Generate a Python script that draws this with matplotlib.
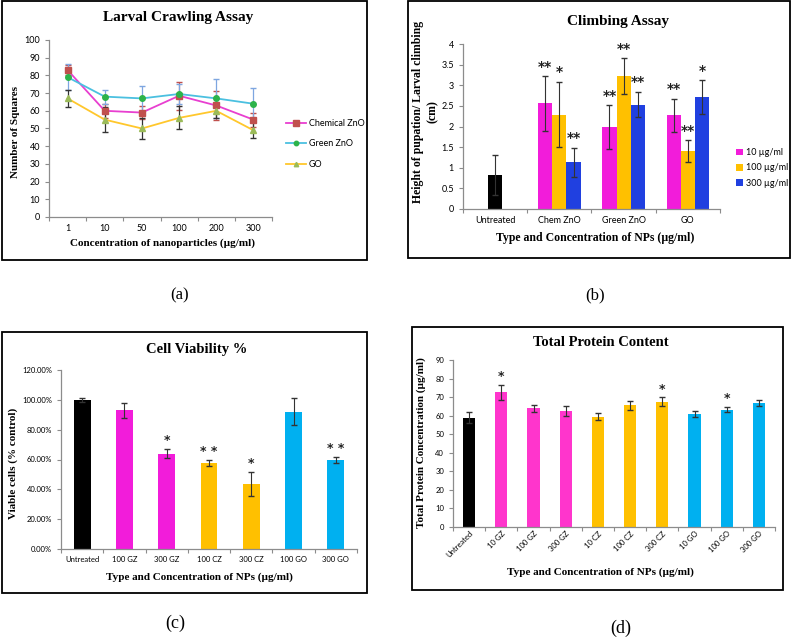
import numpy as np
import matplotlib
matplotlib.use("Agg")
import matplotlib.pyplot as plt
from matplotlib.patches import Rectangle

W, H = 791, 638

# (a) Larval crawling assay
conc_labels = ["1", "10", "50", "100", "200", "300"]
chem_zno = [83, 60, 59, 68.5, 63, 55]
chem_zno_err = [3, 4, 3.5, 8, 8, 4]
green_zno = [79, 68, 67, 69.5, 67, 64]
green_zno_err = [7.5, 4, 7, 5.5, 11, 9]
go_crawl = [67, 55, 50, 56, 60, 49]
go_crawl_err = [5, 7, 5.7, 6.5, 4, 4.5]

# (b) Climbing assay
climb_groups = ["Untreated", "Chem ZnO", "Green ZnO", "GO"]
untreated_climb = 0.82
untreated_climb_err = 0.48
climb_10 = [2.56, 1.99, 2.27]
climb_10_err = [0.66, 0.53, 0.40]
climb_100 = [2.29, 3.22, 1.41]
climb_100_err = [0.79, 0.43, 0.26]
climb_300 = [1.13, 2.53, 2.71]
climb_300_err = [0.36, 0.31, 0.41]
climb_10_sig = ["**", "**", "**"]
climb_100_sig = ["*", "**", "**"]
climb_300_sig = ["**", "**", "*"]

# (c) Cell viability
cv_labels = ["Untreated", "100 GZ", "300 GZ", "100 CZ", "300 CZ", "100 GO", "300 GO"]
cv_vals = [100, 93, 64, 57.5, 43.5, 92, 59.5]
cv_err = [1.5, 5, 3, 2, 8, 9, 2]
cv_sig = ["", "", "*", "* *", "*", "", "* *"]

# (d) Total protein
tp_labels = ["Untreated", "10 GZ", "100 GZ", "300 GZ", "10 CZ", "100 CZ", "300 CZ",
             "10 GO", "100 GO", "300 GO"]
tp_vals = [59, 72.5, 64, 62.5, 59.5, 65.5, 67.5, 61, 63.3, 67]
tp_err = [3, 4, 2, 2.5, 2, 2.2, 2.3, 1.5, 1.5, 1.7]
tp_sig = ["", "*", "", "", "", "", "*", "", "*", ""]

SERIF = "Liberation Serif"
SANS = "Lato"
GRAY = "#8c8c8c"
MAGENTA = "#f21cda"
PINK = "#ff35cc"
YELLOW = "#ffc000"
BLUE = "#2040e0"
CYAN = "#00b0f0"

fig = plt.figure(figsize=(W / 100, H / 100), dpi=100)


def px_axes(x0, y0, x1, y1):
    return fig.add_axes([x0 / W, 1 - y1 / H, (x1 - x0) / W, (y1 - y0) / H])


def frame(x0, y0, x1, y1):
    fig.add_artist(Rectangle((x0 / W, 1 - y1 / H), (x1 - x0) / W, (y1 - y0) / H,
                             transform=fig.transFigure, fill=False, ec="black", lw=1.3))


def fig_text(x, y, s, **kw):
    fig.text(x / W, 1 - y / H, s, ha="center", va="center", **kw)


def excel_style(ax, n, labels, fs=6.5, rot=0):
    for side in ["top", "right"]:
        ax.spines[side].set_visible(False)
    for side in ["left", "bottom"]:
        ax.spines[side].set_color(GRAY)
        ax.spines[side].set_linewidth(0.9)
    ax.set_xlim(-0.5, n - 0.5)
    ax.set_xticks(np.arange(-0.5, n), minor=False)
    ax.set_xticklabels([])
    ax.set_xticks(np.arange(n), minor=True)
    if rot:
        ax.set_xticklabels(labels, minor=True, rotation=rot, ha="right",
                           rotation_mode="anchor", fontsize=fs, family=SANS)
    else:
        ax.set_xticklabels(labels, minor=True, fontsize=fs, family=SANS)
    ax.tick_params(axis="x", which="minor", length=0, pad=5)
    ax.tick_params(axis="both", which="major", length=3, color=GRAY, direction="out")
    ax.tick_params(axis="y", labelsize=fs)
    for t in ax.get_yticklabels():
        t.set_family(SANS)


# ---------------- (a) ----------------
frame(2, 1, 367, 260)
ax = px_axes(49, 40, 272, 217)
x = np.arange(len(conc_labels))
ax.errorbar(x, chem_zno, yerr=chem_zno_err, fmt="none", ecolor="#c0504d", capsize=2.5, lw=0.9)
ax.errorbar(x, green_zno, yerr=green_zno_err, fmt="none", ecolor="#7ea6e0", capsize=2.5, lw=0.9)
ax.errorbar(x, go_crawl, yerr=go_crawl_err, fmt="none", ecolor="#333333", capsize=2.5, lw=0.9)
ax.plot(x, chem_zno, color="#e83fd0", lw=1.3, marker="s", ms=5, mfc="#c0504d", mec="#c0504d",
        label="Chemical ZnO")
ax.plot(x, green_zno, color="#4bc0e0", lw=1.3, marker="o", ms=4, mfc="#2db34a", mec="#2db34a",
        label="Green ZnO")
ax.plot(x, go_crawl, color="#ffc72c", lw=1.3, marker="^", ms=4, mfc="#9bbb59", mec="#9bbb59",
        label="GO")
ax.set_ylim(0, 100)
ax.set_yticks(np.arange(0, 101, 10))
excel_style(ax, len(conc_labels), conc_labels, fs=6.5)
ax.legend(loc="center left", bbox_to_anchor=(278 / W, 1 - 144 / H), bbox_transform=fig.transFigure,
          frameon=False, prop={"family": SANS, "size": 6.5}, handlelength=2.2, labelspacing=1.3,
          handletextpad=0.3, markerscale=0.8)
fig_text(178, 18, "Larval Crawling Assay", family=SERIF, weight="bold", fontsize=11)
fig_text(16, 132, "Number of Squares", family=SERIF, weight="bold", fontsize=8, rotation=90)
fig_text(163, 243, "Concentration of nanoparticles (µg/ml)", family=SERIF, weight="bold", fontsize=8)
fig_text(180, 295, "(a)", family=SERIF, fontsize=12)

# ---------------- (b) ----------------
frame(408, 1, 790, 258)
ax = px_axes(463, 44, 720, 209)
bw = 0.22
gx = np.arange(1, len(climb_groups))
ax.bar(0, untreated_climb, width=bw, color="black")
ax.errorbar(0, untreated_climb, yerr=untreated_climb_err, fmt="none", ecolor="#333333",
            capsize=2.5, lw=0.8)
series = [(climb_10, climb_10_err, climb_10_sig, MAGENTA, "10 µg/ml", -bw),
          (climb_100, climb_100_err, climb_100_sig, YELLOW, "100 µg/ml", 0),
          (climb_300, climb_300_err, climb_300_sig, BLUE, "300 µg/ml", bw)]
for vals, errs, sig, col, lab, off in series:
    ax.bar(gx + off, vals, width=bw, color=col, label=lab)
    ax.errorbar(gx + off, vals, yerr=errs, fmt="none", ecolor="#333333", capsize=2.5, lw=0.8)
    for xi, v, e, s in zip(gx + off, vals, errs, sig):
        ax.text(xi, v + e + 0.06, s, ha="center", va="bottom", fontsize=10, color="#222222",
                family="DejaVu Sans", weight="bold")
ax.set_ylim(0, 4)
ax.set_yticks(np.arange(0, 4.01, 0.5))
ax.set_yticklabels(["0", "0.5", "1", "1.5", "2", "2.5", "3", "3.5", "4"])
excel_style(ax, len(climb_groups), climb_groups, fs=6.5)
ax.legend(loc="center left", bbox_to_anchor=(728 / W, 1 - 168 / H), bbox_transform=fig.transFigure,
          frameon=False, prop={"family": SANS, "size": 6.5}, handlelength=0.8, handleheight=0.8,
          labelspacing=0.7, handletextpad=0.3)
fig_text(618, 21, "Climbing Assay", family=SERIF, weight="bold", fontsize=11)
fig_text(418, 112, "Height of pupation/ Larval climbing", family=SERIF, weight="bold",
         fontsize=8.5, rotation=90)
fig_text(433, 112, "(cm)", family=SERIF, weight="bold", fontsize=8.5, rotation=90)
fig_text(595, 238, "Type and Concentration of NPs (µg/ml)", family=SERIF, weight="bold", fontsize=8.5)
fig_text(595, 295, "(b)", family=SERIF, fontsize=12)

# ---------------- (c) ----------------
frame(2, 332, 367, 593)
ax = px_axes(61, 370, 357, 549)
xc = np.arange(len(cv_labels))
cv_colors = ["black", MAGENTA, MAGENTA, YELLOW, YELLOW, CYAN, CYAN]
ax.bar(xc, cv_vals, width=0.4, color=cv_colors)
ax.errorbar(xc, cv_vals, yerr=cv_err, fmt="none", ecolor="#333333", capsize=2.5, lw=0.8)
for xi, v, e, s in zip(xc, cv_vals, cv_err, cv_sig):
    if s:
        ax.text(xi, v + e + 1.5, s, ha="center", va="bottom", fontsize=9, color="#222222",
                family="DejaVu Sans", weight="bold")
ax.set_ylim(0, 120)
ax.set_yticks(np.arange(0, 121, 20))
ax.set_yticklabels([f"{v:.2f}%" for v in np.arange(0, 121, 20)])
excel_style(ax, len(cv_labels), cv_labels, fs=5.5)
fig_text(197, 350, "Cell Viability %", family=SERIF, weight="bold", fontsize=10.5)
fig_text(13, 463, "Viable cells (% control)", family=SERIF, weight="bold", fontsize=8, rotation=90)
fig_text(199, 577, "Type and Concentration of NPs (µg/ml)", family=SERIF, weight="bold", fontsize=8)
fig_text(175, 623, "(c)", family=SERIF, fontsize=13)

# ---------------- (d) ----------------
frame(412, 327, 783, 590)
ax = px_axes(453, 360, 775, 527)
xd = np.arange(len(tp_labels))
tp_colors = ["black"] + [PINK] * 3 + [YELLOW] * 3 + [CYAN] * 3
ax.bar(xd, tp_vals, width=0.38, color=tp_colors)
ax.errorbar(xd, tp_vals, yerr=tp_err, fmt="none", ecolor="#333333", capsize=2, lw=0.8)
for xi, v, e, s in zip(xd, tp_vals, tp_err, tp_sig):
    if s:
        ax.text(xi, v + e + 1.0, s, ha="center", va="bottom", fontsize=9, color="#222222",
                family="DejaVu Sans", weight="bold")
ax.set_ylim(0, 90)
ax.set_yticks(np.arange(0, 91, 10))
excel_style(ax, len(tp_labels), tp_labels, fs=5.5, rot=45)
ax.tick_params(axis="x", which="minor", pad=2)
fig_text(601, 342, "Total Protein Content", family=SERIF, weight="bold", fontsize=10.5)
fig_text(421, 443, "Total Protein Concentration (µg/ml)", family=SERIF, weight="bold",
         fontsize=8, rotation=90)
fig_text(600, 572, "Type and Concentration of NPs (µg/ml)", family=SERIF, weight="bold", fontsize=8)
fig_text(621, 628, "(d)", family=SERIF, fontsize=13)

fig.savefig("out.png", dpi=100)
